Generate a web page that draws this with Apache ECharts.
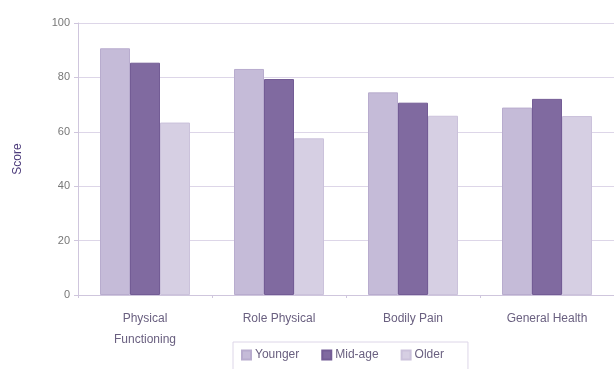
<!DOCTYPE html>
<html>
<head>
<meta charset="utf-8">
<script src="https://cdn.jsdelivr.net/npm/echarts@6/dist/echarts.min.js"></script>
<style>
  html, body { margin: 0; padding: 0; background: #fff; }
  #chart { width: 614px; height: 369px; }
</style>
</head>
<body>
<div id="chart"></div>
<script>
// SF-36 subscale scores by age group
const categories = ['Physical\nFunctioning', 'Role Physical', 'Bodily Pain', 'General Health'];
const younger = [90.7, 83.1, 74.5, 68.9];
const midAge  = [85.4, 79.4, 70.7, 72.1];
const older   = [63.4, 57.6, 65.9, 65.8];
const yTicks  = [0, 20, 40, 60, 80, 100];

const font = 'Liberation Sans, Arial, sans-serif';
const gridColor = '#ddd6e8';

function barSeries(name, data, color, border) {
  return {
    name: name,
    type: 'bar',
    data: data,
    barWidth: 30,
    barGap: '0%',
    itemStyle: { color: color, borderColor: border, borderWidth: 1 }
  };
}

const chart = echarts.init(document.getElementById('chart'), null, { renderer: 'canvas' });
chart.setOption({
  animation: false,
  textStyle: { fontFamily: font },
  grid: { left: 78, right: -7, top: 23, bottom: 74, containLabel: false },
  legend: {
    data: ['Younger', 'Mid-age', 'Older'],
    left: 233,
    top: 342,
    itemWidth: 9,
    itemHeight: 9,
    itemGap: 22,
    padding: [7, 24, 10, 8],
    borderColor: '#ddd6e8',
    borderWidth: 1,
    icon: 'rect',
    textStyle: { fontFamily: font, fontSize: 12, color: '#6a6080', padding: [0, 0, 0, -1] }
  },
  xAxis: {
    type: 'category',
    data: categories,
    axisLine: { lineStyle: { color: '#cfc6dd', width: 1 } },
    axisTick: { show: true, length: 3, lineStyle: { color: '#cfc6dd' } },
    axisLabel: { fontFamily: font, fontSize: 12, color: '#6a6080', margin: 13, lineHeight: 21 }
  },
  yAxis: {
    type: 'value',
    min: yTicks[0],
    max: yTicks[yTicks.length - 1],
    interval: 20,
    name: 'Score',
    nameLocation: 'middle',
    nameGap: 54,
    nameTextStyle: { fontFamily: font, fontSize: 12, color: '#4b3a7a' },
    axisLine: { show: true, lineStyle: { color: '#cfc6dd' } },
    axisTick: { show: true, length: 4, lineStyle: { color: '#cfc6dd' } },
    axisLabel: { fontFamily: font, fontSize: 11, color: '#777', margin: 8 },
    splitLine: { lineStyle: { color: gridColor, width: 1 } }
  },
  series: [
    barSeries('Younger', younger, '#c5bbd8', '#b8acce'),
    barSeries('Mid-age', midAge, '#806aa0', '#735c95'),
    barSeries('Older', older, '#d6cfe3', '#cbc2db')
  ]
});
</script>
</body>
</html>
